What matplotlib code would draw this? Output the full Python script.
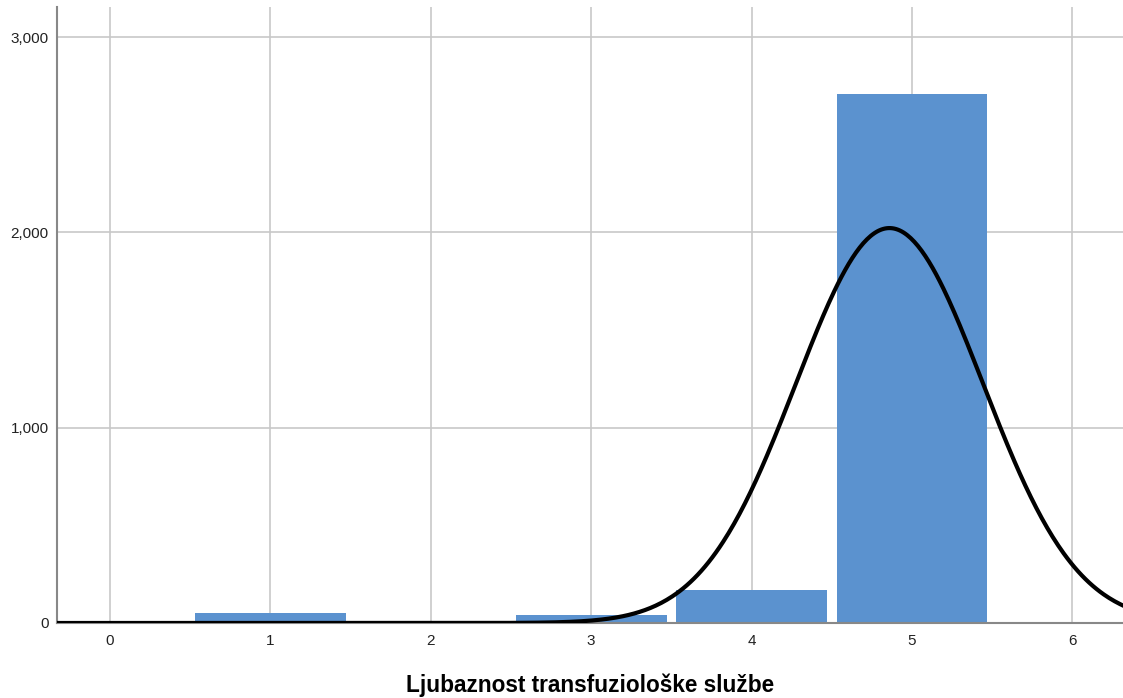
import matplotlib
matplotlib.use("Agg")
import matplotlib.pyplot as plt
import numpy as np
from matplotlib.ticker import FuncFormatter

# Data
categories = [1, 2, 3, 4, 5]
counts = [52, 0, 40, 169, 2709]
curve_mean = 4.86
curve_sd = 0.583
curve_n = 2955
x_ticks = [0, 1, 2, 3, 4, 5, 6]
y_ticks = [0, 1000, 2000, 3000]
x_label = "Ljubaznost transfuziološke službe"

plt.rcParams['font.family'] = ['Liberation Sans', 'DejaVu Sans']

fig = plt.figure(figsize=(11.23, 6.98), dpi=100)
ax = fig.add_axes([57/1123, (698-623)/698, 1 - 57/1123, (623-7)/698])

ax.set_axisbelow(True)
ax.grid(True, color='#c8c8c8', linewidth=1.2)

ax.bar(categories, counts, width=0.94, color='#5b92cf', zorder=2)

xs = np.linspace(-0.4, 6.4, 600)
ys = curve_n / (curve_sd * np.sqrt(2 * np.pi)) * np.exp(-0.5 * ((xs - curve_mean) / curve_sd) ** 2)
ax.plot(xs, ys, color='black', linewidth=3.0, zorder=3, solid_capstyle='butt')

ax.set_xlim(-0.33, 6.316)
ax.set_ylim(0, 3154)
ax.set_xticks(x_ticks)
ax.set_yticks(y_ticks)
ax.yaxis.set_major_formatter(FuncFormatter(lambda v, p: f"{int(v):,}"))

for s in ['top', 'right']:
    ax.spines[s].set_visible(False)
for s in ['left', 'bottom']:
    ax.spines[s].set_color('#888888')
    ax.spines[s].set_linewidth(1.5)

ax.tick_params(axis='both', length=0, labelsize=11, colors='#222222')
ax.tick_params(axis='x', pad=8)
ax.tick_params(axis='y', pad=6)

ax.set_xlabel(x_label, fontsize=16.3, fontweight='bold', color='black', labelpad=18)

fig.savefig("out.png", dpi=100)
